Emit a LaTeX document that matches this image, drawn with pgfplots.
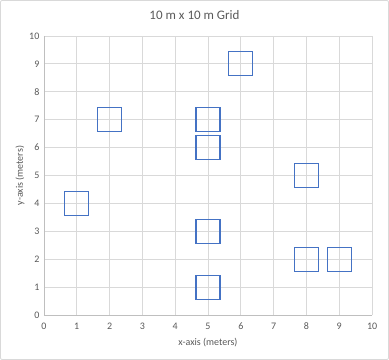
\documentclass[border=0pt]{standalone}
\usepackage{pgfplots}
\pgfplotsset{compat=1.18}
\usepackage{fontspec}
\setmainfont{Carlito}
\definecolor{mblue}{HTML}{4472C4}
\definecolor{gridc}{HTML}{D9D9D9}
\definecolor{axc}{HTML}{BFBFBF}
\definecolor{txt}{HTML}{595959}
\begin{document}
\begin{tikzpicture}[x=1pt,y=1pt]
\draw[gridc, line width=0.8pt, rounded corners=2pt] (-43.5,-44.5) rectangle (344.5,314.5);
\begin{axis}[
  at={(0,0)}, anchor=south west,
  width=328pt, height=279pt, scale only axis,
  xmin=0, xmax=10, ymin=0, ymax=10,
  xtick={0,...,10}, ytick={0,...,10},
  grid=major, major grid style={gridc, line width=0.8pt},
  axis line style={draw=none},
  axis x line*=bottom, axis y line*=left,
  major tick length=0pt,
  tick label style={font=\fontsize{10}{12}\selectfont, text=txt},
  /pgf/number format/assume math mode=true,
  xticklabel style={yshift=-4pt},
  yticklabel style={xshift=-1pt},
  xlabel={x-axis (meters)}, ylabel={y-axis (meters)},
  label style={font=\fontsize{10}{12}\selectfont, text=txt},
  xlabel style={at={(axis description cs:0.5,0)}, anchor=center, yshift=-27pt},
  ylabel style={at={(axis description cs:0,0.5)}, anchor=center, rotate=0, yshift=24pt},
  clip=false,
]
\draw[axc, line width=0.8pt] (axis cs:0,10) -- (axis cs:0,0) -- (axis cs:10,0);
\addplot[only marks, mark=square, mark size=12pt, mark options={draw=mblue, line width=1.2pt}]
 coordinates {(1,4) (2,7) (5,7) (5,6) (5,3) (5,1) (6,9) (8,5) (8,2) (9,2)};
\end{axis}
\node[font=\fontsize{13}{15}\selectfont, text=txt] at (150.5,299.5) {10 m x 10 m Grid};
\end{tikzpicture}
\end{document}
